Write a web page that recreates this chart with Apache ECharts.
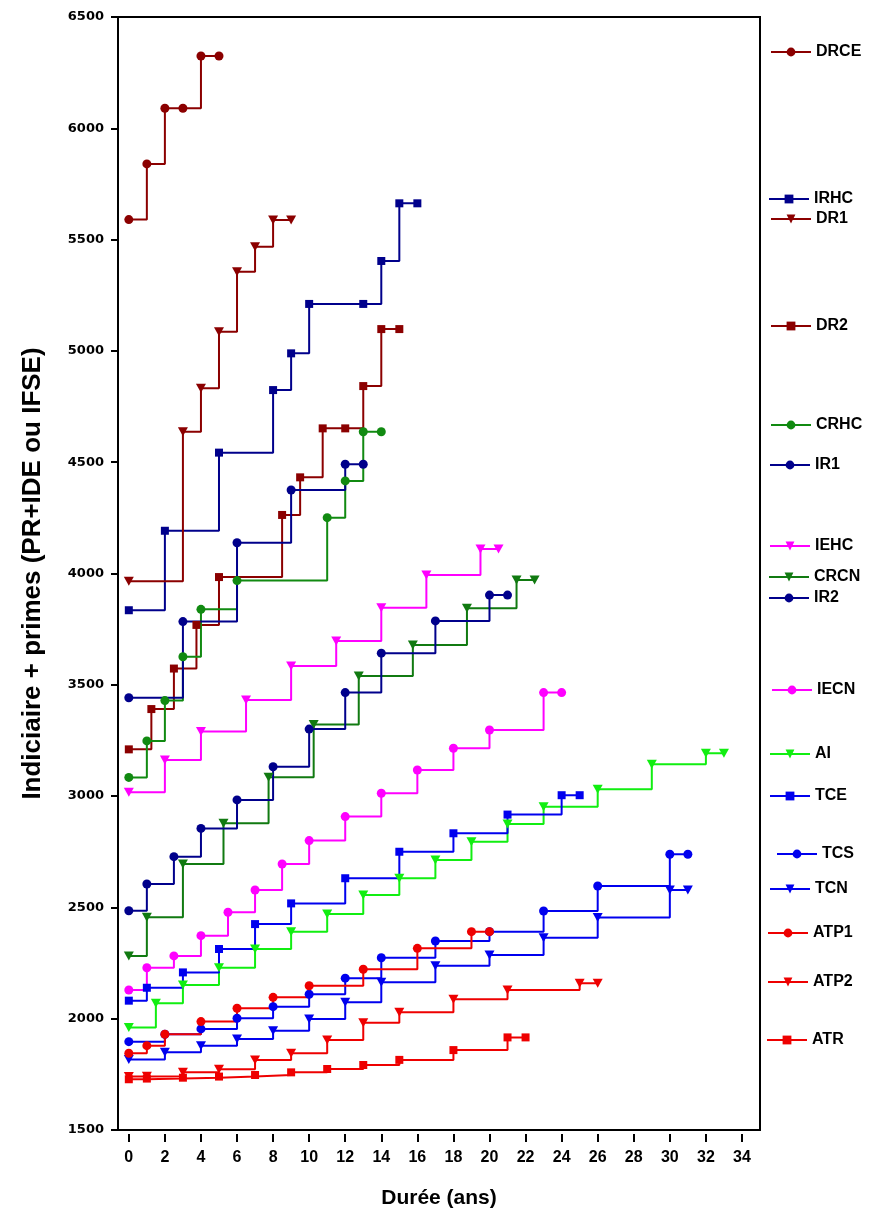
<!DOCTYPE html>
<html>
<head>
<meta charset="utf-8">
<script src="https://cdn.jsdelivr.net/npm/echarts@6/dist/echarts.min.js"></script>
<style>
  html, body { margin: 0; padding: 0; background: #fff; }
  #chart { width: 871px; height: 1209px; }
</style>
</head>
<body>
<div id="chart"></div>
<script>
// Salary progression (indiciaire + primes) by years of seniority, step curves per grade.
const DRCE = [[0,5590],[1,5840],[2,6090],[3,6090],[4,6325],[5,6325]];
const IRHC = [[0,3835],[2,4192],[5,4543],[8,4824],[9,4989],[10,5211],[13,5211],[14,5404],[15,5663],[16,5663]];
const DR1  = [[0,3965],[3,4637],[4,4832],[5,5086],[6,5356],[7,5468],[8,5588],[9,5588]];
const DR2  = [[0,3210],[1.25,3391],[2.5,3573],[3.75,3769],[5,3984],[8.5,4263],[9.5,4432],[10.75,4652],[12,4652],[13,4842],[14,5098],[15,5098]];
const CRHC = [[0,3084],[1,3248],[2,3429],[3,3626],[4,3839],[6,3968],[11,4251],[12,4416],[13,4637],[14,4637]];
const IR1  = [[0,3442],[3,3784],[6,4138],[9,4375],[12,4491],[13,4491]];
const IEHC = [[0,3017],[2,3162],[4,3290],[6.5,3432],[9,3584],[11.5,3697],[14,3846],[16.5,3993],[19.5,4110],[20.5,4110]];
const CRCN = [[0,2282],[1,2456],[3,2695],[5.25,2878],[7.75,3085],[10.25,3322],[12.75,3540],[15.75,3679],[18.75,3844],[21.5,3971],[22.5,3971]];
const IR2  = [[0,2485],[1,2605],[2.5,2728],[4,2855],[6,2983],[8,3132],[10,3301],[12,3465],[14,3642],[17,3787],[20,3903],[21,3903]];
const IECN = [[0,2129],[1,2229],[2.5,2282],[4,2373],[5.5,2478],[7,2578],[8.5,2695],[10,2800],[12,2908],[14,3013],[16,3117],[18,3215],[20,3297],[23,3465],[24,3465]];
const AI   = [[0,1960],[1.5,2069],[3,2151],[5,2229],[7,2313],[9,2391],[11,2470],[13,2556],[15,2631],[17,2713],[19,2795],[21,2875],[23,2952],[26,3031],[29,3143],[32,3192],[33,3192]];
const TCE  = [[0,2081],[1,2139],[3,2208],[5,2313],[7,2425],[9,2518],[12,2631],[15,2750],[18,2833],[21,2917],[24,3004],[25,3004]];
const TCS  = [[0,1897],[2,1930],[4,1954],[6,2002],[8,2054],[10,2110],[12,2182],[14,2274],[17,2349],[20,2391],[23,2484],[26,2596],[30,2739],[31,2739]];
const TCN  = [[0,1817],[2,1849],[4,1879],[6,1909],[8,1946],[10,1999],[12,2074],[14,2164],[17,2238],[20,2286],[23,2364],[26,2455],[30,2578],[31,2578]];
const ATP1 = [[0,1845],[1,1879],[2,1930],[4,1987],[6,2047],[8,2096],[10,2148],[13,2222],[16,2316],[19,2391],[20,2391]];
const ATP2 = [[0,1740],[1,1742],[3,1759],[5,1773],[7,1815],[9,1845],[11,1904],[13,1982],[15,2029],[18,2087],[21,2129],[25,2159],[26,2159]];
const ATR  = [[0,1728],[1,1731],[3,1735],[5,1740],[7,1747],[9,1759],[11,1774],[13,1792],[15,1815],[18,1859],[21,1916],[22,1916]];

const xTicks = [0,2,4,6,8,10,12,14,16,18,20,22,24,26,28,30,32,34];

// Drawing order (later series on top)
const seriesNames = ['DRCE','IRHC','DR1','DR2','CRHC','IR1','IEHC','CRCN','IR2','IECN','AI','TCE','TCS','TCN','ATP1','ATP2','ATR'];
const seriesData = { DRCE, IRHC, DR1, DR2, CRHC, IR1, IEHC, CRCN, IR2, IECN, AI, TCE, TCS, TCN, ATP1, ATP2, ATR };

const TRI_DOWN = 'path://M0,0L10,0L5,9Z';
const style = {
  DRCE: { color: '#8b0000', symbol: 'circle' },
  IRHC: { color: '#00008b', symbol: 'rect' },
  DR1:  { color: '#8b0000', symbol: TRI_DOWN },
  DR2:  { color: '#8b0000', symbol: 'rect' },
  CRHC: { color: '#118a11', symbol: 'circle' },
  IR1:  { color: '#00008b', symbol: 'circle' },
  IEHC: { color: '#ff00ff', symbol: TRI_DOWN },
  CRCN: { color: '#117a11', symbol: TRI_DOWN },
  IR2:  { color: '#00008b', symbol: 'circle' },
  IECN: { color: '#ff00ff', symbol: 'circle' },
  AI:   { color: '#11ee11', symbol: TRI_DOWN },
  TCE:  { color: '#0000ee', symbol: 'rect' },
  TCS:  { color: '#0000ee', symbol: 'circle' },
  TCN:  { color: '#0000ee', symbol: TRI_DOWN },
  ATP1: { color: '#ee0000', symbol: 'circle' },
  ATP2: { color: '#ee0000', symbol: TRI_DOWN },
  ATR:  { color: '#ee0000', symbol: 'rect' }
};

// Legend entries placed individually beside the plot: [name, left, centerY]
const legendSpots = [
  ['DRCE',770,52],['IRHC',768,199],['DR1',770,219],['DR2',770,326],['CRHC',770,425],
  ['IR1',769,465],['IEHC',769,546],['CRCN',768,577],['IR2',768,598],['IECN',771,690],
  ['AI',769,754],['TCE',769,796],['TCS',776,854],['TCN',769,889],['ATP1',767,933],
  ['ATP2',767,982],['ATR',766,1040]
];

const symSize = s => s === 'circle' ? 9 : (s === 'rect' ? 8 : [10, 9]);

const series = seriesNames.map(name => ({
  name,
  type: 'line',
  step: 'end',
  data: seriesData[name],
  symbol: style[name].symbol,
  symbolSize: symSize(style[name].symbol),
  showAllSymbol: true,
  color: style[name].color,
  lineStyle: { width: 2, color: style[name].color },
  itemStyle: { color: style[name].color },
  emphasis: { disabled: true },
  animation: false
}));

const legends = legendSpots.map(([name, left, cy]) => ({
  data: [name],
  left,
  top: cy - 8,
  padding: 0,
  itemWidth: 40,
  itemHeight: 11,
  selectedMode: false,
  textStyle: { fontFamily: '"Liberation Sans", Arial, sans-serif', fontWeight: 'bold', fontSize: 16, lineHeight: 16, color: '#000' }
}));

const chart = echarts.init(document.getElementById('chart'), null, { renderer: 'canvas' });
chart.setOption({
  backgroundColor: '#fff',
  animation: false,
  legend: legends,
  grid: {
    left: 118, right: 111, top: 17, bottom: 79,
    containLabel: false, outerBoundsMode: 'none',
    show: true, borderColor: '#000', borderWidth: 2, backgroundColor: 'transparent'
  },
  xAxis: {
    type: 'value',
    min: -0.6,
    max: 35,
    offset: 4,
    name: 'Durée (ans)',
    nameLocation: 'middle',
    nameGap: 54,
    nameTextStyle: { fontFamily: '"Liberation Sans", Arial, sans-serif', fontWeight: 'bold', fontSize: 21, color: '#000' },
    axisLine: { show: false, onZero: false },
    axisTick: { show: true, length: 8, lineStyle: { color: '#000', width: 2 }, customValues: xTicks },
    axisLabel: { customValues: xTicks, margin: 16, fontFamily: '"Liberation Sans", Arial, sans-serif', fontWeight: 'bold', fontSize: 16, color: '#000' },
    splitLine: { show: false }
  },
  yAxis: {
    type: 'value',
    min: 1500,
    max: 6500,
    interval: 500,
    name: 'Indiciaire + primes (PR+IDE ou IFSE)',
    nameLocation: 'middle',
    nameGap: 72,
    nameTextStyle: { fontFamily: '"Liberation Sans", Arial, sans-serif', fontWeight: 'bold', fontSize: 26, color: '#000' },
    axisLine: { show: true, onZero: false, lineStyle: { color: '#000', width: 2 } },
    axisTick: { show: true, length: 7, lineStyle: { color: '#000', width: 2 } },
    axisLabel: { margin: 14, formatter: v => String(v), fontFamily: '"DejaVu Sans", sans-serif', fontWeight: 'bold', fontSize: 13, color: '#000' },
    splitLine: { show: false }
  },
  series
});
</script>
</body>
</html>
